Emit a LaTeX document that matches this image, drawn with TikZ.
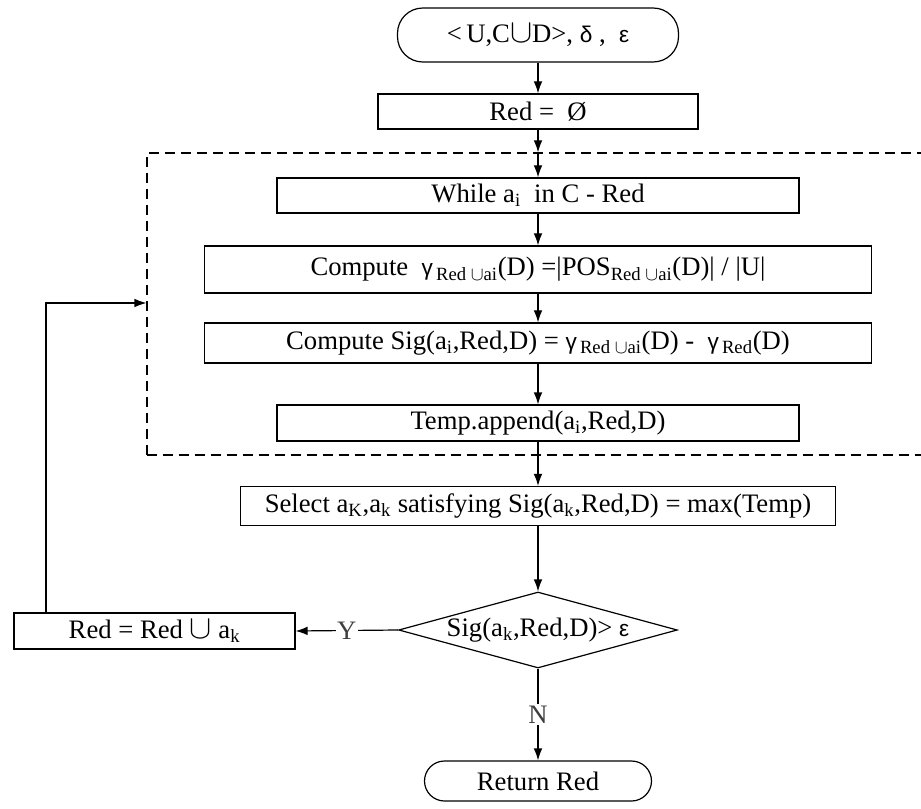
\documentclass[tikz,border=0pt]{standalone}
\usepackage{fontspec}
\setmainfont{Liberation Serif}
\newfontfamily\grkfont{Liberation Sans}
\newcommand{\grk}[1]{{\grkfont\fontsize{17}{24}\selectfont #1}}
\newcommand{\bigcupsym}{\mbox{\fontsize{24}{24}\selectfont$\cup$}}
\newcommand{\smallcupsym}{\mbox{\fontsize{14}{14}\selectfont$\cup$}}
\usetikzlibrary{arrows.meta,shapes.geometric,positioning}
\tikzset{
every node/.style={font=\fontsize{20}{24}\selectfont},
termbox/.style={draw,rectangle,rounded corners=19pt,align=center},
stepbox/.style={draw,rectangle,align=center,inner sep=2pt},
decbox/.style={draw,diamond,aspect=3.67,inner sep=0pt,minimum width=209pt,minimum height=57pt},
dashbox/.style={draw,rectangle,dash pattern=on 7.5pt off 4.5pt},
lbl/.style={fill=white,inner sep=1pt,text=black!75}
}

\begin{document}
\begin{tikzpicture}[x=0.75pt,y=-0.75pt,line width=0.9pt,
>={Latex[length=9pt,width=6.5pt]}]
\useasboundingbox (0,0) rectangle (921,809);

% the main column
\node[termbox,minimum width=210.75pt,minimum height=40.5pt] (start) at (538,35)
  {<\,U,C\bigcupsym D>, \grk{δ} ,\ \ \grk{ε}};
\node[stepbox,minimum width=240pt,minimum height=26.25pt] (red0) at (538,111.5)
  {Red =\ \ Ø};

% the dashed loop body
\node[dashbox,minimum width=587.25pt,minimum height=226.5pt] (loop) at (538.5,304) {};
\node[stepbox,minimum width=391.5pt,minimum height=26.25pt] (while) at (538,195.5)
  {While a\textsubscript{i}\ \ in C - Red};
\node[stepbox,minimum width=500.25pt,minimum height=35.25pt] (comp) at (538,269.5)
  {Compute\ \ \grk{γ}\textsubscript{\,Red \smallcupsym ai}(D) =|POS\textsubscript{Red \smallcupsym ai}(D)| / |U|};
\node[stepbox,minimum width=500.25pt,minimum height=30pt] (sig) at (538,343)
  {Compute Sig(a\textsubscript{i},Red,D) = \grk{γ}\textsubscript{\,Red \smallcupsym ai}(D) -\ \ \grk{γ}\textsubscript{\,Red}(D)};
\node[stepbox,minimum width=391.5pt,minimum height=27pt] (temp) at (538,423)
  {Temp.append(a\textsubscript{i},Red,D)};

% selection and test
\node[stepbox,minimum width=446.25pt,minimum height=29.25pt] (sel) at (538,506)
  {Select a\textsubscript{K},a\textsubscript{k} satisfying Sig(a\textsubscript{k},Red,D) = max(Temp)};
\node[decbox] (dec) at (538,630)
  {Sig(a\textsubscript{k},Red,D)> \grk{ε}};
\node[stepbox,minimum width=210.75pt,minimum height=27pt] (redk) at (154.5,631)
  {Red = Red \bigcupsym\ a\textsubscript{k}};
\node[termbox,rounded corners=15pt,minimum width=170.25pt,minimum height=30pt] (ret) at (538,781)
  {Return Red};
\coordinate (back) at (46,303);

% connectors
\draw[->] (start) -- (red0);
\draw[->] (red0) -- (red0 |- loop.north);
\draw[->] (red0 |- loop.north) -- (while);
\draw[->] (while) -- (comp);
\draw[->] (comp) -- (sig);
\draw[->] (sig) -- (temp);
\draw (temp) -- (temp |- loop.south);
\draw[->] (temp |- loop.south) -- (sel);
\draw[->] (sel) -- (dec);
\draw[->] (dec.west) -- node[lbl] {Y} (redk.east);
\draw[->] (dec.south) -- node[lbl] {N} (ret.north);
\draw[->] (redk.north -| back) -- (back) -- (back -| loop.west);

\end{tikzpicture}
\end{document}
